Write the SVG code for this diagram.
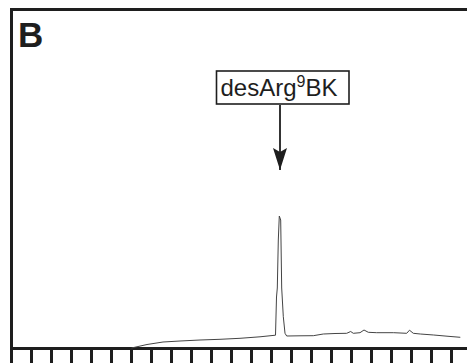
<svg xmlns="http://www.w3.org/2000/svg" width="467" height="363" viewBox="0 0 467 363">
<style>
.frame{stroke:#1e1e1e;stroke-width:3;fill:none}
.tick{stroke:#1e1e1e;stroke-width:3}
.trace{stroke:#444;stroke-width:1;fill:none;stroke-linejoin:round}
.lbl{font-family:"Liberation Sans",Arial,sans-serif;fill:#1e1e1e}
</style>
<defs>
<marker id="ah" markerWidth="22" markerHeight="14" refX="22" refY="7" orient="auto" markerUnits="userSpaceOnUse" viewBox="0 0 22 14">
<path d="M0,0 L22,7 L0,14 L4,7 Z" fill="#1e1e1e"/>
</marker>
</defs>
<rect width="467" height="363" fill="#fff"/>
<g id="frame">
<path class="frame" d="M11.5,363 V9.5 H467"/>
<path class="frame" d="M10,348.5 H467"/>
</g>
<g id="ticks">
<path class="tick" d="M31.5,350V363M51.5,350V363M71.5,350V363M91.5,350V363M111.5,350V363M131.5,350V363M151.5,350V363M171.5,350V363M191.5,350V363M211.5,350V363M231.5,350V363M251.5,350V363M271.5,350V363M291.5,350V363M311.5,350V363M331.5,350V363M351.5,350V363M371.5,350V363M391.5,350V363M411.5,350V363M431.5,350V363M451.5,350V363"/>
</g>
<g id="panel-label">
<text class="lbl" x="18" y="46.5" font-size="35" font-weight="bold">B</text>
</g>
<g id="trace">
<polyline class="trace" points="131.5,348 147,344.5 163,342 180,341 200,340 220,339.3 240,338.3 260,336.8 275.5,335.2 276.5,297 277.3,288 278.3,240 279.3,216 280.7,220 281.7,288 283.3,316.7 285,333.3 286.7,336 300,335.8 313.3,335.7 323.3,334 335,333.5 346.7,333.3 350.7,331.5 353.3,333.3 360,332.7 364,330 368.3,332.3 376.7,332.7 393.7,332.7 406.7,333.3 409.5,330.2 413.3,333.3 420.3,334 433.7,335 447,336.2 460.3,337.3"/>
</g>
<g id="node-desArg9BK">
<rect x="216.5" y="71" width="132.5" height="33" fill="#fff" stroke="#1e1e1e" stroke-width="1.6"/>
<text class="lbl" x="220.5" y="96" font-size="24">desArg<tspan font-size="16" dy="-9">9</tspan><tspan dy="9">BK</tspan></text>
</g>
<g id="connectors">
<line x1="280" y1="105" x2="280" y2="170" stroke="#1e1e1e" stroke-width="1.8" marker-end="url(#ah)"/>
</g>
</svg>
